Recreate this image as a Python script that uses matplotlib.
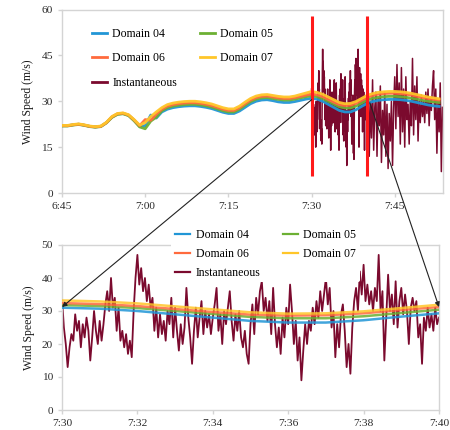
import numpy as np
import matplotlib
matplotlib.use("Agg")
import matplotlib.pyplot as plt
from matplotlib.patches import ConnectionPatch

plt.rcParams['font.family'] = ['Liberation Serif', 'DejaVu Serif']

# ---------------- data ----------------
# model time grid: minutes after midnight, 6:45 .. 7:53 every minute
model_start, model_end = 405, 473
d04 = [22.0, 22.0, 22.3, 22.5, 22.2, 21.8, 21.6, 21.8, 23.0, 24.8, 25.8, 26.0, 25.4, 23.8, 21.8,
       22.0, 25.5, 24.5, 26.5, 27.4, 27.9, 28.2, 28.4, 28.5, 28.5, 28.3, 28.0, 27.6, 27.0, 26.4,
       26.0, 26.0, 26.8, 28.0, 29.2, 30.0, 30.4, 30.5, 30.2, 29.8, 29.6, 29.6, 29.9, 30.3, 30.7,
       31.0, 30.7, 30.0, 29.0, 28.0, 27.0, 26.5, 26.5, 27.2, 28.3, 29.3, 29.9, 30.3, 30.5, 30.6,
       30.6, 30.5, 30.3, 30.0, 29.6, 29.2, 28.8, 28.5, 28.3]
d05 = [21.9, 21.9, 22.2, 22.4, 22.1, 21.7, 21.5, 21.7, 22.9, 24.7, 25.7, 25.9, 25.3, 23.6, 21.6,
       21.0, 23.5, 24.8, 26.9, 27.9, 28.4, 28.7, 28.9, 29.0, 29.0, 28.8, 28.5, 28.1, 27.5, 26.9,
       26.5, 26.5, 27.4, 28.7, 29.9, 30.7, 31.1, 31.2, 30.9, 30.6, 30.4, 30.4, 30.7, 31.1, 31.5,
       31.8, 31.5, 30.9, 30.0, 29.1, 28.2, 27.8, 27.8, 28.4, 29.4, 30.4, 31.0, 31.3, 31.5, 31.6,
       31.6, 31.5, 31.3, 31.0, 30.7, 30.3, 30.0, 29.8, 29.6]
d06 = [22.0, 22.0, 22.3, 22.5, 22.2, 21.8, 21.6, 21.8, 23.0, 24.9, 25.9, 26.1, 25.5, 23.9, 22.0,
       24.0, 23.8, 25.8, 27.4, 28.4, 28.9, 29.2, 29.4, 29.5, 29.5, 29.3, 29.0, 28.6, 28.0, 27.4,
       27.0, 27.0, 27.9, 29.2, 30.4, 31.2, 31.6, 31.7, 31.4, 31.1, 30.9, 30.9, 31.2, 31.6, 32.0,
       32.4, 32.1, 31.5, 30.6, 29.7, 28.9, 28.6, 28.7, 29.3, 30.3, 31.2, 31.9, 32.3, 32.5, 32.6,
       32.6, 32.5, 32.3, 32.0, 31.6, 31.2, 30.9, 30.6, 30.4]
d07 = [22.1, 22.1, 22.4, 22.6, 22.3, 21.9, 21.7, 21.9, 23.1, 25.0, 26.0, 26.2, 25.6, 24.0, 22.2,
       23.0, 25.0, 26.5, 27.9, 28.9, 29.4, 29.7, 29.9, 30.0, 30.0, 29.8, 29.5, 29.1, 28.5, 27.9,
       27.5, 27.5, 28.4, 29.7, 30.9, 31.7, 32.1, 32.2, 31.9, 31.6, 31.4, 31.4, 31.7, 32.2, 32.7,
       33.2, 32.9, 32.3, 31.4, 30.5, 29.6, 29.2, 29.3, 29.9, 30.9, 31.9, 32.5, 32.9, 33.1, 33.2,
       33.2, 33.1, 32.9, 32.6, 32.2, 31.8, 31.4, 31.1, 30.8]

# instantaneous wind, 7:30 .. 7:40 every 3 s
inst_fine = [34, 25, 20, 13, 19, 23, 21, 29, 24, 27,
             19, 26, 22, 28, 24, 15, 22, 30, 24, 20,
             27, 21, 26, 32, 36, 30, 40, 31, 34, 24,
             31, 21, 24, 19, 23, 17, 21, 16, 30, 40,
             47, 38, 43, 36, 40, 33, 38, 31, 34, 24,
             31, 22, 29, 23, 27, 21, 30, 26, 34, 22,
             31, 24, 18, 26, 20, 25, 37, 28, 22, 14,
             24, 31, 22, 28, 33, 23, 30, 25, 29, 23,
             28, 32, 37, 24, 29, 20, 30, 26, 31, 36,
             27, 21, 29, 24, 30, 22, 19, 24, 17, 14,
             26, 32, 23, 34, 29, 36, 39, 30, 34, 27,
             33, 23, 37, 26, 19, 25, 17, 28, 22, 31,
             26, 38, 30, 20, 27, 15, 22, 9, 18, 26,
             20, 27, 24, 31, 26, 33, 28, 36, 30, 35,
             40, 32, 37, 25, 30, 16, 26, 19, 29, 32,
             24, 13, 20, 11, 25, 33, 37, 30, 42, 35,
             44, 33, 38, 32, 36, 30, 37, 33, 47, 30,
             36, 15, 28, 41, 30, 35, 26, 39, 25, 33,
             37, 29, 35, 30, 20, 31, 34, 30, 33, 22,
             26, 14, 28, 24, 31, 25, 29, 24, 31, 26,
             28]
# instantaneous wind, 7:40.2 .. 7:53.6 every 12 s (top panel only)
inst_late = [36, 12, 30, 18, 37, 14, 28, 33, 12, 31,
             22, 35, 10, 27, 19, 33, 12, 29, 8, 26,
             17, 30, 9, 28, 38, 21, 42, 25, 36, 16,
             41, 20, 34, 15, 38, 24, 29, 16, 30, 22,
             44, 19, 35, 24, 38, 17, 30, 23, 32, 25,
             30, 23, 33, 26, 34, 22, 31, 27, 35, 40,
             24, 34, 13, 30, 20, 36, 7, 28]

top_ticks = [405, 420, 435, 450, 465]
top_tick_labels = ['6:45', '7:00', '7:15', '7:30', '7:45']
top_yticks = [0, 15, 30, 45, 60]
bot_ticks = [450, 452, 454, 456, 458, 460]
bot_tick_labels = ['7:30', '7:32', '7:34', '7:36', '7:38', '7:40']
bot_yticks = [0, 10, 20, 30, 40, 50]

zoom_window = (450, 460)          # 7:30 - 7:40
marker_range = (5.5, 58)          # red vertical marker extent
link_top = [(450, 30.5), (460.5, 29.5)]
link_bot = [(450, 31.2), (460, 31.2)]

labels = ['Domain 04', 'Domain 05', 'Domain 06', 'Domain 07', 'Instantaneous']
colors = ['#2196d6', '#6cb033', '#ff6a3d', '#ffc629', '#7b0a2e']
legend_order = [0, 2, 4, 1, 3]    # row-wise reading order in a 2-column legend

# ---------------- figure ----------------
t_model = np.arange(model_start, model_end + 1)
t_fine = zoom_window[0] + np.arange(len(inst_fine)) * 0.05
t_late = zoom_window[1] + 0.2 + np.arange(len(inst_late)) * 0.2
t_inst = np.concatenate([t_fine, t_late])
v_inst = np.concatenate([inst_fine, inst_late])
series = [d04, d05, d06, d07]

fig = plt.figure(figsize=(4.5, 4.3), dpi=100)
ax1 = fig.add_axes([62/450, 1-193/430, 381/450, 183.5/430])
ax2 = fig.add_axes([62/450, 1-410/430, 377/450, 165/430])

spine_c = '#d4d4d4'
tick_c = '#2a2a2a'
for ax in (ax1, ax2):
    for s in ax.spines.values():
        s.set_color(spine_c)
        s.set_linewidth(1.0)
    ax.tick_params(axis='both', colors=spine_c, labelcolor=tick_c, labelsize=8.2,
                   length=3, width=1.0, direction='out')
    ax.set_ylabel('Wind Speed (m/s)', fontsize=8.5, color='#1a1a1a', labelpad=5)

# top panel
ax1.plot(t_inst, v_inst, color=colors[4], lw=1.1, zorder=1)
for s, c in zip(series, colors[:4]):
    ax1.plot(t_model, s, color=c, lw=2.0, zorder=3, alpha=0.95)
ax1.vlines(zoom_window, marker_range[0], marker_range[1], color='#ff1a1a', lw=2.2, zorder=4)
ax1.set_xlim(405, 473.7)
ax1.set_ylim(0, 60)
ax1.set_xticks(top_ticks)
ax1.set_xticklabels(top_tick_labels)
ax1.set_yticks(top_yticks)

h = [plt.Line2D([], [], color=colors[i], lw=2.0) for i in legend_order]
lab = [labels[i] for i in legend_order]
leg1 = ax1.legend(h, lab, ncol=2, loc='upper left', bbox_to_anchor=(0.078, 0.90),
                  frameon=False, fontsize=8.5, handlelength=1.3, handletextpad=0.45,
                  columnspacing=1.9, labelspacing=1.05, borderpad=0, borderaxespad=0)

# bottom panel
ax2.plot(t_fine, inst_fine, color=colors[4], lw=1.3, zorder=1)
for s, c in zip(series, colors[:4]):
    ax2.plot(t_model, s, color=c, lw=1.8, zorder=3, alpha=0.85)
ax2.set_xlim(zoom_window)
ax2.set_ylim(0, 50)
ax2.set_xticks(bot_ticks)
ax2.set_xticklabels(bot_tick_labels)
ax2.set_yticks(bot_yticks)

h2 = [plt.Line2D([], [], color=colors[i], lw=1.6) for i in legend_order]
leg2 = ax2.legend(h2, lab, ncol=2, loc='upper left', bbox_to_anchor=(0.29, 1.12),
                  frameon=True, fontsize=8.5, handlelength=1.3, handletextpad=0.45,
                  columnspacing=1.9, labelspacing=0.6, borderpad=0.3, borderaxespad=0)
leg2.get_frame().set_facecolor('white')
leg2.get_frame().set_edgecolor('none')
leg2.get_frame().set_alpha(1)
leg2.set_zorder(10)

# connecting arrows
for (pt, pb) in zip(link_top, link_bot):
    con = ConnectionPatch(xyA=pt, coordsA=ax1.transData, xyB=pb, coordsB=ax2.transData,
                          arrowstyle='-|>', mutation_scale=7, color='#222222', lw=0.8,
                          zorder=20)
    fig.add_artist(con)

fig.savefig('out.png', dpi=100)
